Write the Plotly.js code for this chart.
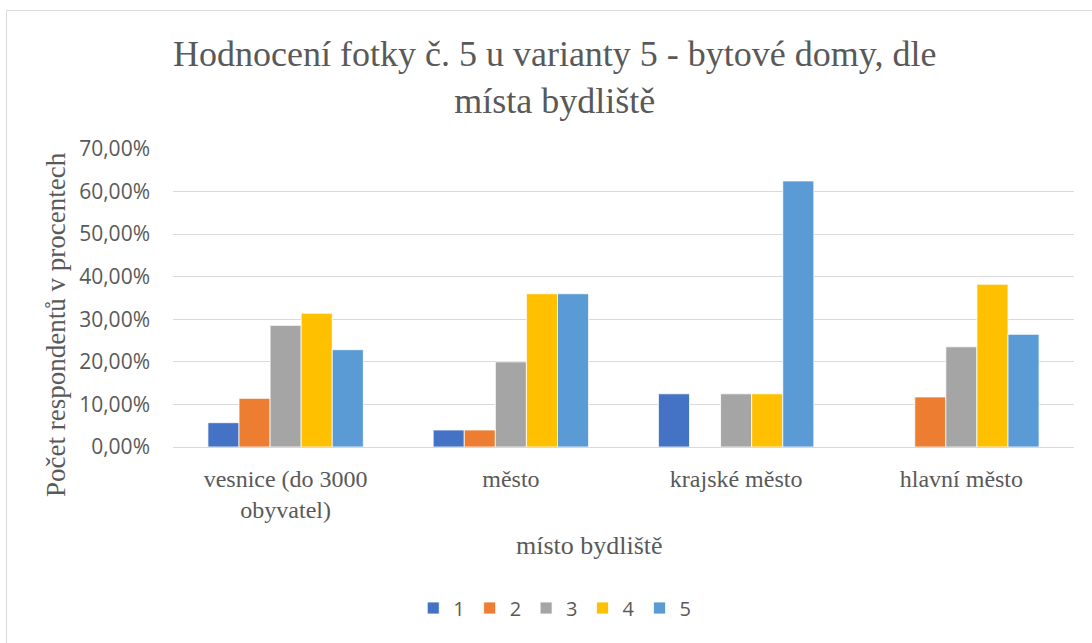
<!DOCTYPE html>
<html>
<head>
<meta charset="utf-8">
<script src="https://cdn.plot.ly/plotly-3.0.1.min.js"></script>
<style>
html,body{margin:0;padding:0;background:#fff;}
#chart{width:1092px;height:643px;position:absolute;left:0;top:0;}
#frame{position:absolute;left:6px;top:10px;width:1100px;height:700px;border-left:1px solid #d9d9d9;border-top:1px solid #d9d9d9;pointer-events:none;}
</style>
</head>
<body>
<div id="chart"></div>
<div id="frame"></div>
<script>
const categories = ['vesnice (do 3000<br>obyvatel)', 'město', 'krajské město', 'hlavní město'];
const seriesNames = ['1', '2', '3', '4', '5'];
const s1 = [0.0571, 0.04, 0.125, 0];
const s2 = [0.1143, 0.04, 0, 0.1176];
const s3 = [0.2857, 0.20, 0.125, 0.2353];
const s4 = [0.3143, 0.36, 0.125, 0.3824];
const s5 = [0.2286, 0.36, 0.625, 0.2647];
const colors = ['#4472C4', '#ED7D31', '#A5A5A5', '#FFC000', '#5B9BD5'];
const yTicks = [0, 0.1, 0.2, 0.3, 0.4, 0.5, 0.6, 0.7];

const allSeries = [s1, s2, s3, s4, s5];
const traces = allSeries.map((vals, i) => ({
  type: 'bar',
  name: seriesNames[i],
  x: categories,
  y: vals,
  marker: {color: colors[i], line: {color: '#ffffff', width: 0.8}},
  hoverinfo: 'x+y+name'
}));

const serif = '"Liberation Serif", "Times New Roman", serif';
const sans = '"Open Sans", "Liberation Sans", sans-serif';
const gray = '#595959';

const layout = {
  width: 1092, height: 643,
  paper_bgcolor: 'rgba(0,0,0,0)',
  plot_bgcolor: '#ffffff',
  separators: ', ',
  margin: {l: 173, r: 18, t: 149, b: 196},
  barmode: 'group',
  bargap: 0.31,
  bargroupgap: 0,
  showlegend: true,
  title: {
    text: 'Hodnocení fotky č. 5 u varianty 5 - bytové domy, dle<br>místa bydliště',
    font: {family: serif, size: 36, color: gray},
    x: 0.508, xref: 'container', xanchor: 'center',
    y: 0.897, yref: 'container', yanchor: 'top'
  },
  xaxis: {
    type: 'category',
    tickfont: {family: serif, size: 24, color: gray},
    showgrid: false,
    showline: true, linecolor: '#d9d9d9', linewidth: 1,
    ticks: '', ticklabelstandoff: 10,
    fixedrange: true
  },
  yaxis: {
    range: [0, 0.7],
    tickvals: yTicks,
    tickformat: '.2%',
    tickfont: {family: sans, size: 21, color: gray},
    showgrid: true, gridcolor: '#d9d9d9', gridwidth: 1,
    zeroline: false, showline: false,
    ticks: '', ticklabelstandoff: 22,
    fixedrange: true
  },
  legend: {
    orientation: 'h',
    x: 0.508, xref: 'container', xanchor: 'center',
    y: 1 - 608/643, yref: 'container', yanchor: 'middle',
    font: {family: sans, size: 20, color: gray},
    itemclick: false, itemdoubleclick: false
  },
  annotations: [
    {text: 'místo bydliště', xref: 'paper', yref: 'paper', x: (589-173)/901, y: -(545-447)/298,
     xanchor: 'center', yanchor: 'middle', showarrow: false,
     font: {family: serif, size: 26, color: gray}},
    {text: 'Počet respondentů v procentech', xref: 'paper', yref: 'paper', x: -(173-56)/901, y: (447-325)/298,
     xanchor: 'center', yanchor: 'middle', showarrow: false, textangle: -90,
     font: {family: serif, size: 27, color: gray}}
  ]
};

Plotly.newPlot('chart', traces, layout, {displayModeBar: false});
</script>
</body>
</html>
